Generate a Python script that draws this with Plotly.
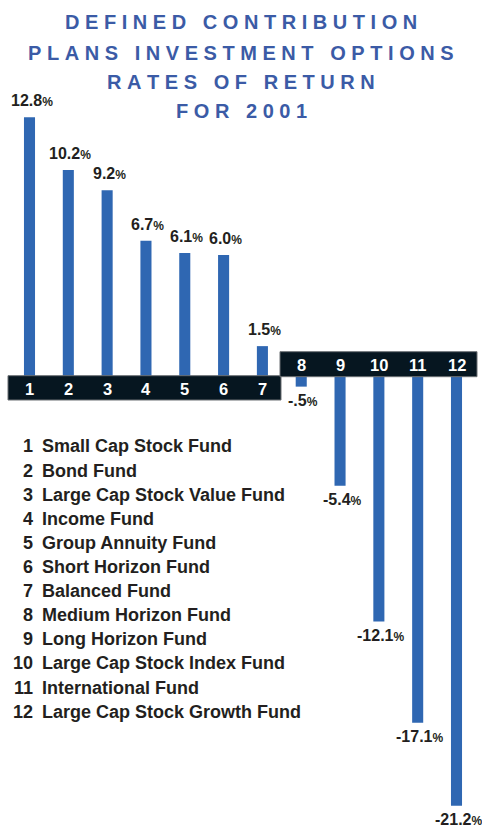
import plotly.graph_objects as go

# ---------------- data ----------------
categories = [1, 2, 3, 4, 5, 6, 7, 8, 9, 10, 11, 12]
returns = [12.8, 10.2, 9.2, 6.7, 6.1, 6.0, 1.5, -0.5, -5.4, -12.1, -17.1, -21.2]
value_labels = ["12.8", "10.2", "9.2", "6.7", "6.1", "6.0", "1.5",
                "-.5", "-5.4", "-12.1", "-17.1", "-21.2"]
fund_names = [
    "Small Cap Stock Fund",
    "Bond Fund",
    "Large Cap Stock Value Fund",
    "Income Fund",
    "Group Annuity Fund",
    "Short Horizon Fund",
    "Balanced Fund",
    "Medium Horizon Fund",
    "Long Horizon Fund",
    "Large Cap Stock Index Fund",
    "International Fund",
    "Large Cap Stock Growth Fund",
]
title_lines = ["DEFINED CONTRIBUTION", "PLANS INVESTMENT OPTIONS",
               "RATES OF RETURN", "FOR 2001"]

# ---------------- style ----------------
W, H = 482, 828
BAR_COLOR = "#2f67b2"
TITLE_COLOR = "#3b5ba6"
TEXT_COLOR = "#231f20"
BOX_COLOR = "#061620"
SANS = "Liberation Sans, Arial, Helvetica, sans-serif"


def px_x(p):
    return p / W


def px_y(p):
    return 1 - p / H


# axis mapping: bar 1 centre at 29.5px, bar 12 at 456.5px; zero at 376.5px, 20.25 px per %
step = (456.5 - 29.5) / 11
x_lo = 1 - 29.5 / step
x_hi = 1 + (W - 29.5) / step
zero_px, per_pct = 376.5, 20.25
y_hi = zero_px / per_pct
y_lo = -(H - zero_px) / per_pct

fig = go.Figure()
fig.add_trace(go.Bar(
    x=categories, y=returns, width=0.285,
    marker=dict(color=BAR_COLOR, line=dict(width=0)),
    hoverinfo="skip", showlegend=False,
))

annotations = []

# value labels
for c, v, lab in zip(categories, returns, value_labels):
    txt = lab + "<span style='font-size:12px'>%</span>"
    annotations.append(dict(
        x=c, y=v, xref="x", yref="y", text=txt, showarrow=False,
        xanchor="center", yanchor="bottom" if v >= 0 else "top",
        yshift=6 if v >= 0 else -3, xshift=2,
        font=dict(family=SANS, size=16, color=TEXT_COLOR, weight="bold"),
    ))

# category numbers inside the black bands
for c, v in zip(categories, returns):
    ypix = 388.5 if v >= 0 else 364.5
    annotations.append(dict(
        x=c, y=px_y(ypix), xref="x", yref="paper", text=str(c),
        showarrow=False, xanchor="center", yanchor="middle",
        font=dict(family=SANS, size=16.5, color="white", weight="bold"),
    ))

# title (letter-spaced)
GAP = "\u00a0"
WORD_GAP = "\u00a0\u00a0\u00a0"


def spaced(s):
    return WORD_GAP.join(GAP.join(list(w)) for w in s.split(" "))


title_y = [22, 53.5, 82, 110.5]
for line, yp in zip(title_lines, title_y):
    annotations.append(dict(
        x=0.5, y=px_y(yp), xref="paper", yref="paper", text=spaced(line),
        showarrow=False, xanchor="center", yanchor="middle",
        font=dict(family=SANS, size=20, color=TITLE_COLOR, weight="bold"),
    ))

# key / legend list
for i, (c, name) in enumerate(zip(categories, fund_names)):
    yp = 446.5 + i * 24.1
    annotations.append(dict(
        x=px_x(35), y=px_y(yp), xref="paper", yref="paper", text=str(c),
        showarrow=False, xanchor="right", yanchor="middle",
        font=dict(family=SANS, size=18, color=TEXT_COLOR, weight="bold"),
    ))
    annotations.append(dict(
        x=px_x(40), y=px_y(yp), xref="paper", yref="paper", text=name,
        showarrow=False, xanchor="left", yanchor="middle",
        font=dict(family=SANS, size=18, color=TEXT_COLOR, weight="bold"),
    ))

shapes = [
    dict(type="rect", xref="paper", yref="paper",
         x0=px_x(8), x1=px_x(281), y0=px_y(400), y1=px_y(375.7),
         fillcolor=BOX_COLOR, line=dict(color="#6b6f73", width=1), layer="above"),
    dict(type="rect", xref="paper", yref="paper",
         x0=px_x(280), x1=px_x(477), y0=px_y(376.7), y1=px_y(351.7),
         fillcolor=BOX_COLOR, line=dict(color="#6b6f73", width=1), layer="above"),
]

fig.update_layout(
    width=W, height=H,
    margin=dict(l=0, r=0, t=0, b=0),
    paper_bgcolor="white", plot_bgcolor="white",
    xaxis=dict(range=[x_lo, x_hi], visible=False, fixedrange=True),
    yaxis=dict(range=[y_lo, y_hi], visible=False, fixedrange=True),
    annotations=annotations, shapes=shapes,
    showlegend=False,
)

fig.write_html(
    "out.html",
    config={"displayModeBar": False},
    post_script="document.body.style.margin='0';document.body.style.overflow='hidden';",
)
